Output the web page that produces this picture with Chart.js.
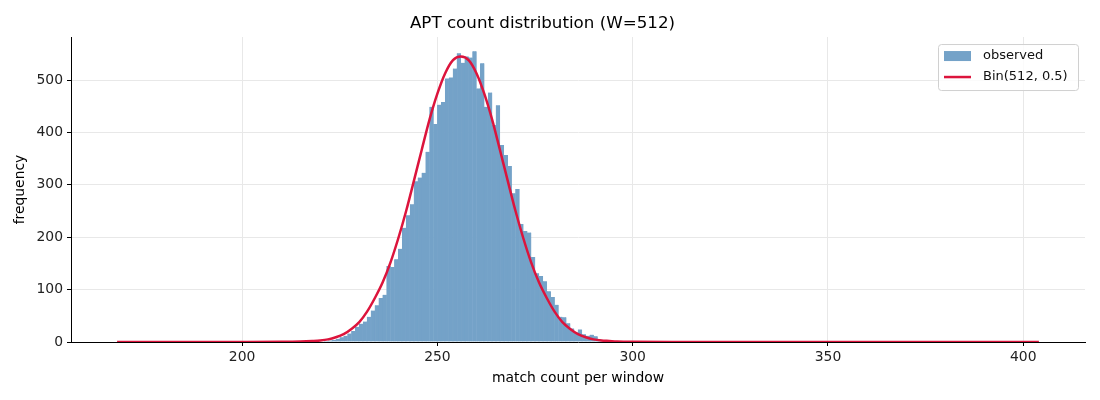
<!DOCTYPE html>
<html>
<head>
<meta charset="utf-8">
<script src="https://cdn.jsdelivr.net/npm/chart.js@4/dist/chart.umd.min.js"></script>
<style>
  html, body { margin: 0; padding: 0; background: #fff; }
  #wrap { width: 1100px; height: 400px; }
</style>
</head>
<body>
<div id="wrap"><canvas id="aptCanvas"></canvas></div>
<script>
// observed histogram, unit bins [k, k+1)
const binStart = [220, 221, 222, 223, 224, 225, 226, 227, 228, 229,
                  230, 231, 232, 233, 234, 235, 236, 237, 238, 239,
                  240, 241, 242, 243, 244, 245, 246, 247, 248, 249,
                  250, 251, 252, 253, 254, 255, 256, 257, 258, 259,
                  260, 261, 262, 263, 264, 265, 266, 267, 268, 269,
                  270, 271, 272, 273, 274, 275, 276, 277, 278, 279,
                  280, 281, 282, 283, 284, 285, 286, 287, 288, 289,
                  290, 291, 292, 293, 294, 295];
const observed = [1, 2, 3, 4, 6, 9, 12, 16, 21, 29,
                  35, 39, 48, 60, 70, 84, 90, 145, 143, 158,
                  178, 218, 242, 263, 307, 314, 323, 363, 449, 416,
                  453, 458, 503, 505, 522, 551, 533, 545, 543, 555,
                  484, 532, 449, 476, 414, 452, 376, 357, 336, 284,
                  292, 225, 212, 209, 162, 131, 126, 116, 97, 86,
                  71, 48, 47, 36, 26, 18, 24, 15, 12, 14,
                  11, 5, 4, 3, 2, 1];

// Bin(512, 0.5) expected counts
const curveX = [168, 200, 210, 215, 218, 220, 222, 224, 226, 228,
                230, 232, 234, 236, 238, 240, 242, 244, 246, 248,
                250, 252, 254, 256, 258, 260, 262, 264, 266, 268,
                270, 272, 274, 276, 278, 280, 282, 284, 286, 288,
                290, 292, 294, 296, 300, 310, 350, 404];
const curveY = [0, 0, 0.3, 1, 2, 3, 5, 9, 15, 25,
                38, 58, 84, 114, 152, 198, 250, 308, 367, 425,
                474, 513, 538, 545, 538, 513, 474, 425, 367, 308,
                250, 198, 152, 114, 84, 58, 38, 25, 15, 9,
                5, 3, 2, 1, 0.3, 0, 0, 0];

const xTicks = [200, 250, 300, 350, 400];
const yTicks = [0, 100, 200, 300, 400, 500];

const FONT = "'DejaVu Sans', sans-serif";
const BAR_COLOR = "rgb(116,162,200)";

// matplotlib style legend box in the upper right of the plot
const boxLegend = {
  id: "boxLegend",
  afterDraw(chart) {
    const ctx = chart.ctx;
    const area = chart.chartArea;
    const w = 140, h = 46;
    const x0 = area.right - 7 - w, y0 = area.top + 7;
    ctx.save();
    ctx.fillStyle = "rgba(255,255,255,0.8)";
    ctx.strokeStyle = "#d0d0d0";
    ctx.lineWidth = 1;
    ctx.beginPath();
    ctx.roundRect(x0 + 0.5, y0 + 0.5, w, h, 3);
    ctx.fill();
    ctx.stroke();
    const ds = chart.data.datasets;
    ctx.font = "13px " + FONT;
    ctx.textBaseline = "middle";
    ctx.fillStyle = ds[0].backgroundColor;
    ctx.fillRect(x0 + 6, y0 + 7, 27, 10);
    ctx.strokeStyle = ds[1].borderColor;
    ctx.lineWidth = 2.5;
    ctx.beginPath();
    ctx.moveTo(x0 + 6, y0 + 33);
    ctx.lineTo(x0 + 33, y0 + 33);
    ctx.stroke();
    ctx.fillStyle = "#111";
    ctx.fillText(ds[0].label, x0 + 45, y0 + 12);
    ctx.fillText(ds[1].label, x0 + 45, y0 + 33);
    ctx.restore();
  }
};

const aptChart = new Chart(document.getElementById("aptCanvas"), {
  type: "bar",
  data: {
    datasets: [{
      label: "observed",
      data: binStart.map((b, i) => ({ x: b + 0.5, y: observed[i] })),
      backgroundColor: BAR_COLOR,
      borderColor: BAR_COLOR,
      borderWidth: { left: 0.6, right: 0.6, top: 0, bottom: 0 },
      barPercentage: 1.0,
      categoryPercentage: 1.0,
      order: 2
    }, {
      type: "line",
      label: "Bin(512, 0.5)",
      data: curveX.map((x, i) => ({ x: x, y: curveY[i] })),
      borderColor: "#dc143c",
      borderWidth: 2.5,
      pointRadius: 0,
      fill: false,
      cubicInterpolationMode: "monotone",
      order: 1
    }]
  },
  options: {
    responsive: true,
    maintainAspectRatio: false,
    animation: false,
    layout: { padding: { left: 0, right: 15, top: 0, bottom: 0 } },
    plugins: {
      legend: { display: false },
      tooltip: { enabled: false },
      title: {
        display: true,
        text: "APT count distribution (W=512)",
        color: "#000",
        font: { family: FONT, size: 16.7, weight: "normal" },
        padding: { top: 14, bottom: 3 }
      }
    },
    scales: {
      x: {
        type: "linear",
        offset: false,
        min: 156.2,
        max: 415.8,
        afterBuildTicks: (s) => { s.ticks = xTicks.map(v => ({ value: v })); },
        afterFit: (s) => { s.height = 58; },
        ticks: { color: "#222", font: { family: FONT, size: 13.9 }, padding: 3 },
        grid: { offset: false, color: "#e8e8e8", tickColor: "#000", tickLength: 4 },
        border: { color: "#000", width: 1 },
        title: {
          display: true,
          text: "match count per window",
          color: "#000",
          font: { family: FONT, size: 13.9 },
          padding: { top: 0, bottom: 13 }
        }
      },
      y: {
        min: 0,
        max: 582,
        afterBuildTicks: (s) => { s.ticks = yTicks.map(v => ({ value: v })); },
        afterFit: (s) => { s.width = 71; },
        ticks: { color: "#222", font: { family: FONT, size: 13.9 }, padding: 4 },
        grid: { color: "#e8e8e8", tickColor: "#000", tickLength: 4 },
        border: { color: "#000", width: 1 },
        title: {
          display: true,
          text: "frequency",
          color: "#000",
          font: { family: FONT, size: 13.9 },
          padding: { top: 12, bottom: 0 }
        }
      }
    }
  },
  plugins: [boxLegend]
});
</script>
</body>
</html>
